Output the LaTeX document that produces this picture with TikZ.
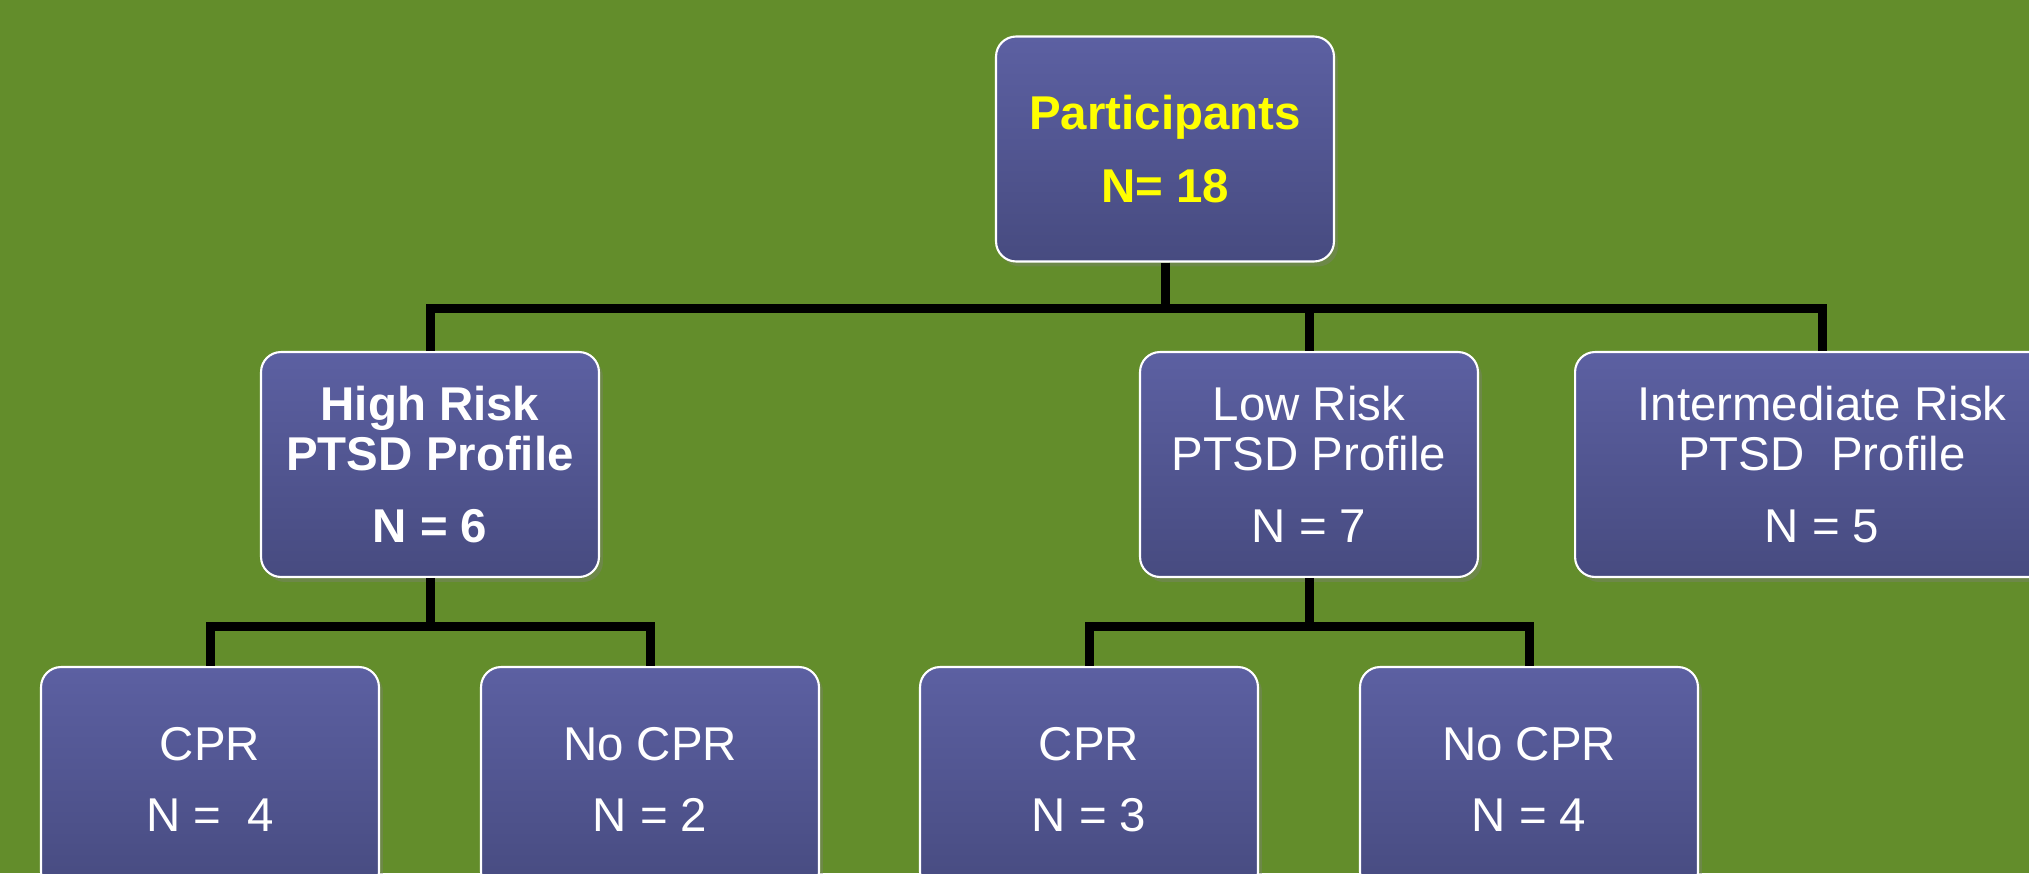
\documentclass[tikz,border=0pt]{standalone}
\usepackage{fontspec}
\setmainfont{Liberation Sans}
\usetikzlibrary{shadows}
\definecolor{slidegreen}{RGB}{99,141,43}
\definecolor{boxtop}{RGB}{92,96,162}
\definecolor{boxbot}{RGB}{71,75,128}
\definecolor{headyellow}{RGB}{255,255,0}
\tikzset{box/.style = {draw=white, line width=1.2pt, rounded corners=0.4cm,
                       top color=boxtop, bottom color=boxbot,
                       minimum width=6.76cm, minimum height=4.5cm, align=center,
                       text=white, font=\fontsize{27}{28.3}\selectfont,
                       drop shadow={opacity=0.35, shadow xshift=0.08cm, shadow yshift=-0.1cm}}}
\tikzset{conn/.style = {line width=0.18cm}}

\begin{document}
\begin{tikzpicture}[x=0.02cm, y=-0.02cm]
    \useasboundingbox (0, 0) rectangle (2029, 873);
    \fill [slidegreen] (0, 0) rectangle (2029, 873);
    \clip (0, 0) rectangle (2029, 873);

    \node [box, text=headyellow] (top) at (1165, 149) {\textbf{Participants}\\[13pt]\textbf{N= 18}};

    \node [box] (high) at (430, 464.5) {\textbf{High Risk}\\\textbf{PTSD Profile}\\[12.5pt]\textbf{N = 6}};
    \node [box] (low) at (1309, 464.5) {Low Risk\\PTSD Profile\\[12.5pt]N = 7};
    \node [box, minimum width=9.88cm] (inter) at (1822, 464.5) {Intermediate Risk\\PTSD\ \ Profile\\[12.5pt]N = 5};

    \node [box] (cpra) at (210, 779.5) {CPR\\[12pt]N =\ \ 4};
    \node [box] (nocpra) at (650, 779.5) {No CPR\\[12pt]N = 2};
    \node [box] (cprb) at (1089, 779.5) {CPR\\[12pt]N = 3};
    \node [box] (nocprb) at (1529, 779.5) {No CPR\\[12pt]N = 4};

    \draw [conn] (top.south) -- ++(0, 46) -| (high.north);
    \draw [conn] (top.south) ++(0, 46) -| (low.north);
    \draw [conn] (top.south) ++(0, 46) -| (inter.north);

    \draw [conn] (high.south) -- ++(0, 48) -| (cpra.north);
    \draw [conn] (high.south) ++(0, 48) -| (nocpra.north);
    \draw [conn] (low.south) -- ++(0, 48) -| (cprb.north);
    \draw [conn] (low.south) ++(0, 48) -| (nocprb.north);
  \end{tikzpicture}
\end{document}
